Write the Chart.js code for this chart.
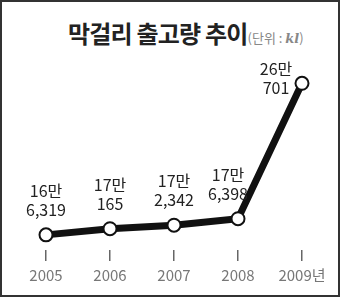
<!DOCTYPE html>
<html>
<head>
<meta charset="utf-8">
<script src="https://cdn.jsdelivr.net/npm/chart.js@4"></script>
<style>
  html, body { margin: 0; padding: 0; background: #fff; }
  #wrap { position: relative; width: 340px; height: 297px; box-sizing: border-box; border: 2px solid #333; overflow: hidden; }
  #title { position: absolute; left: 66px; top: 13px; white-space: nowrap; font-family: "Noto Sans CJK KR", sans-serif; color: #222; }
  #title b { font-size: 24px; font-weight: 700; letter-spacing: -0.8px; }
  #title span { font-size: 13px; color: #888; }
  #title i { font-family: "DejaVu Serif", serif; font-weight: bold; }
  canvas { position: absolute; left: -2px; top: -2px; }
</style>
</head>
<body>
<div id="wrap">
  <div id="title"><b>막걸리 출고량 추이</b><span>(단위 : <i>kl</i>)</span></div>
  <canvas id="chart" width="340" height="297"></canvas>
</div>
<script>
// 연도, 출고량(kl), 점 위 라벨
const years = ['2005', '2006', '2007', '2008', '2009년'];
const amounts = [166319, 170165, 172342, 176398, 260701];
const labelTop = ['16만', '17만', '17만', '17만', '26만'];
const labelBottom = ['6,319', '165', '2,342', '6,398', '701'];

// 라벨 위치 보정 (2008, 2009는 왼쪽으로)
const labelShiftX = [0, 0, 0, -10, -26];
const labelShiftY = [0, 0, 0, 0, 30];

const valueLabels = {
    id: 'valueLabels',
    afterDatasetsDraw(chart) {
        const ctx = chart.ctx;
        const meta = chart.getDatasetMeta(0);
        ctx.save();
        ctx.fillStyle = '#222';
        ctx.font = '16px "Noto Sans CJK KR", sans-serif';
        ctx.textAlign = 'center';
        ctx.textBaseline = 'alphabetic';
        meta.data.forEach((pt, i) => {
            const x = pt.x + labelShiftX[i];
            const y = pt.y - 19 + labelShiftY[i];
            ctx.fillText(labelBottom[i], x, y);
            ctx.fillText(labelTop[i], x, y - 19);
        });
        ctx.restore();
    }
};

new Chart(document.getElementById('chart').getContext('2d'), {
    type: 'line',
    data: {
        labels: years,
        datasets: [{
            data: amounts,
            borderColor: '#111',
            borderWidth: 7,
            tension: 0,
            pointRadius: 6.5,
            pointBackgroundColor: '#fff',
            pointBorderColor: '#111',
            pointBorderWidth: 2,
            clip: false
        }]
    },
    options: {
        responsive: false,
        animation: false,
        layout: { padding: { left: 46, right: 38, top: 60, bottom: 8 } },
        plugins: { legend: { display: false }, title: { display: false }, tooltip: { enabled: false } },
        scales: {
            x: {
                offset: false,
                border: { display: false },
                grid: { drawOnChartArea: false, drawTicks: true, tickLength: 11, color: '#666', lineWidth: 1.5 },
                ticks: { color: '#777', padding: 5, font: { family: '"Noto Sans CJK KR", sans-serif', size: 15 } }
            },
            y: {
                display: false,
                min: 156900,
                max: 275200
            }
        }
    },
    plugins: [valueLabels]
});
</script>
</body>
</html>
